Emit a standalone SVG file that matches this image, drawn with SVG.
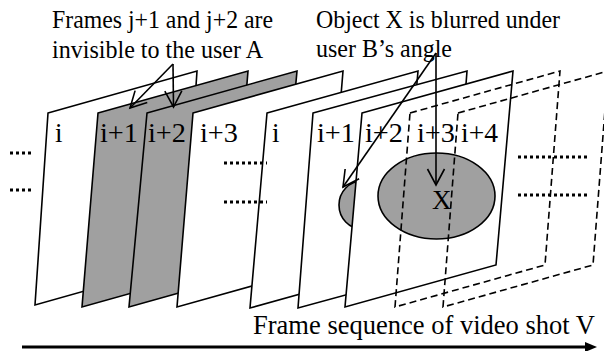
<svg xmlns="http://www.w3.org/2000/svg" width="604" height="351" viewBox="0 0 604 351">
<style>
.fr{fill:#fff;stroke:#000;stroke-width:1.6;stroke-linejoin:miter}
.gr{fill:#a0a0a0;stroke:#000;stroke-width:1.6}
.dsh{fill:none;stroke:#000;stroke-width:1.6;stroke-dasharray:7,4}
.lb{font-family:"Liberation Serif","Times New Roman",serif;font-size:27px;fill:#000}
.tx{font-family:"Liberation Serif","Times New Roman",serif;font-size:24.5px;fill:#000}
.dots{stroke:#000;stroke-width:3;stroke-dasharray:3,3;fill:none}
.ar{fill:none;stroke:#000;stroke-width:1.6}
.ell{fill:#a0a0a0;stroke:#000;stroke-width:1.6}
</style>
<defs>
<marker id="vh" markerUnits="userSpaceOnUse" markerWidth="20" markerHeight="20" refX="0" refY="0" orient="auto" overflow="visible">
<path d="M-16,-8.5 L0,0 L-16,8.5" fill="none" stroke="#000" stroke-width="1.6"/>
</marker>
<marker id="th" markerUnits="userSpaceOnUse" markerWidth="14" markerHeight="12" refX="0" refY="0" orient="auto" overflow="visible">
<path d="M-2,-5 L10,0 L-2,5 Z" fill="#000"/>
</marker>
</defs>

<g id="frame-1-i">
<polygon class="fr" points="48,113 197,71 184,263 35,305"/>
<text class="lb" x="55" y="142">i</text>
</g>
<g id="frame-1-i1">
<polygon class="gr" points="98,113 248,71 232,265 82,307"/>
<text class="lb" x="100" y="142" textLength="38" lengthAdjust="spacingAndGlyphs">i+1</text>
</g>
<g id="frame-1-i2">
<polygon class="gr" points="147,113 297,71 279,265 129,307"/>
<text class="lb" x="148" y="142" textLength="38" lengthAdjust="spacingAndGlyphs">i+2</text>
</g>
<g id="frame-1-i3">
<polygon class="fr" points="193,113 343,71 327,265 177,307"/>
<text class="lb" x="200" y="142" textLength="38" lengthAdjust="spacingAndGlyphs">i+3</text>
</g>
<g id="frame-2-i">
<polygon class="fr" points="267,113 418,71 401,266 250,308"/>
<text class="lb" x="272" y="142">i</text>
</g>
<g id="frame-2-i1">
<polygon class="fr" points="313,113 467,71 452,266 298,308"/>
<text class="lb" x="317" y="142" textLength="38" lengthAdjust="spacingAndGlyphs">i+1</text>
<ellipse class="ell" cx="362" cy="205" rx="23" ry="24"/>
</g>
<g id="frame-2-i2">
<polygon class="fr" points="362,113 513,71 496,265 345,307"/>
<text class="lb" x="365" y="142" textLength="38" lengthAdjust="spacingAndGlyphs">i+2</text>
<ellipse class="ell" cx="436.5" cy="196" rx="58.5" ry="43"/>
<text class="lb" x="432" y="209">X</text>
</g>
<g id="frame-2-i3">
<polygon class="dsh" points="410,113 560,71 545,265 395,307"/>
<text class="lb" x="417" y="142" textLength="38" lengthAdjust="spacingAndGlyphs">i+3</text>
</g>
<g id="frame-2-i4">
<polygon class="dsh" points="458,113 608,71 593,265 443,307"/>
<text class="lb" x="461" y="142" textLength="37" lengthAdjust="spacingAndGlyphs">i+4</text>
</g>

<g id="ellipsis">
<line class="dots" x1="10" y1="153" x2="33" y2="153"/>
<line class="dots" x1="10" y1="190" x2="33" y2="190"/>
<line class="dots" x1="224" y1="163" x2="267" y2="163"/>
<line class="dots" x1="224" y1="202" x2="267" y2="202"/>
<line class="dots" x1="518" y1="157" x2="588" y2="157"/>
<line class="dots" x1="518" y1="195" x2="588" y2="195"/>
</g>

<g id="connectors">
<line class="ar" x1="173" y1="64" x2="130" y2="108" marker-end="url(#vh)"/>
<line class="ar" x1="173" y1="64" x2="173.5" y2="107" marker-end="url(#vh)"/>
<line class="ar" x1="436" y1="53" x2="343" y2="187" marker-end="url(#vh)"/>
<line class="ar" x1="436" y1="53" x2="436" y2="185" marker-end="url(#vh)"/>
<line x1="22" y1="347" x2="587" y2="347" stroke="#000" stroke-width="3" marker-end="url(#th)"/>
</g>

<g id="labels">
<text class="tx" x="52" y="28" textLength="221" lengthAdjust="spacingAndGlyphs">Frames j+1 and j+2 are</text>
<text class="tx" x="52" y="58" textLength="211" lengthAdjust="spacingAndGlyphs">invisible to the user A</text>
<text class="tx" x="316" y="28" textLength="244" lengthAdjust="spacingAndGlyphs">Object X is blurred under</text>
<text class="tx" x="316" y="57" textLength="136" lengthAdjust="spacingAndGlyphs">user B’s angle</text>
<text class="tx" x="253" y="334" style="font-size:26.5px" textLength="342" lengthAdjust="spacingAndGlyphs">Frame sequence of video shot V</text>
</g>
</svg>
